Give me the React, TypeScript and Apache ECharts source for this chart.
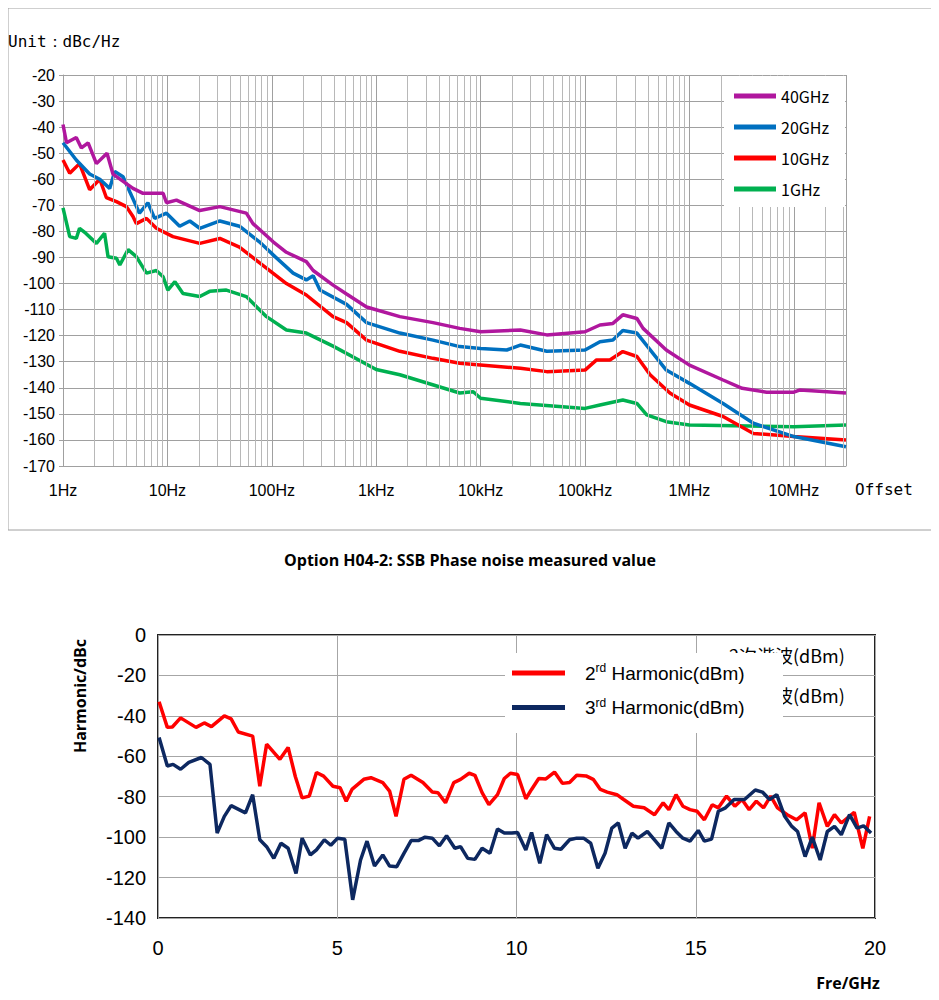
import { useEffect, useRef } from 'react';
import * as echarts from 'echarts';

// phase noise, [offset Hz, dBc/Hz]
const pn40G: [number, number][] = [
  [1, -39], [1.08, -46], [1.34, -44], [1.5, -48], [1.74, -46], [2.09, -54], [2.64, -50], [3.01, -58],
  [4.68, -63.5], [5.84, -65.4], [9.1, -65.4], [9.8, -69], [12.2, -68], [20.4, -72], [31.8, -70.5],
  [57, -73], [66, -77], [103, -84], [138, -88], [214, -91.6], [249, -95], [386, -100.6], [520, -104],
  [808, -109], [1685, -112.7], [3500, -115], [6300, -117.2], [10000, -118.5], [24000, -117.8],
  [43000, -119.7], [100000, -118.5], [139000, -115.9], [185000, -115.3], [230000, -112],
  [314000, -113.4], [360000, -117.2], [600000, -125.5], [1000000, -131.3], [2100000, -137],
  [3200000, -140.2], [5500000, -141.7], [10000000, -141.7], [11500000, -140.8], [31600000, -142],
];
const pn20G: [number, number][] = [
  [1, -46], [1.34, -52.6], [1.8, -58], [2.25, -60], [2.8, -63.5], [3.13, -57], [3.76, -59], [4.36, -64.8],
  [5.4, -73], [6.5, -69], [7.55, -75], [9.8, -73], [13.1, -78], [16.4, -76], [20.4, -78.8], [31.8, -76],
  [49, -78], [76, -84], [103, -89], [160, -96], [214, -98.6], [249, -97], [289, -102.5], [520, -108],
  [808, -115], [1685, -119], [3500, -121.7], [6300, -124.2], [10000, -124.9], [17800, -125.5],
  [24000, -123.6], [43000, -126], [100000, -125.5], [139000, -122.3], [185000, -121.7],
  [230000, -118], [314000, -119], [600000, -133.2], [1000000, -138.3], [2100000, -146],
  [4100000, -153.6], [10000000, -158.7], [31600000, -162.6],
];
const pn10G: [number, number][] = [
  [1, -52.6], [1.16, -57.7], [1.44, -54], [1.8, -64], [2.25, -60], [2.6, -67], [3.25, -68.6], [4.05, -70.5],
  [4.68, -74.3], [5.04, -77], [6.3, -75], [7.84, -78.8], [11.3, -82], [20.4, -84.6], [31.8, -82.7],
  [49, -86], [76, -92], [138, -100], [214, -104.4], [386, -112.7], [520, -115], [808, -121.7],
  [1685, -126], [3500, -128.7], [6300, -130.6], [24000, -132.5], [43000, -133.8], [100000, -133.2],
  [129000, -129.3], [173000, -129.3], [230000, -126.1], [314000, -128], [420000, -135],
  [650000, -142], [1000000, -146.6], [2100000, -151], [4100000, -157.5], [10000000, -158.7],
  [31600000, -160],
];
const pn1G: [number, number][] = [
  [1, -71], [1.16, -82], [1.34, -82.7], [1.44, -78.8], [1.65, -80.7], [2.09, -84.6], [2.5, -80.7],
  [2.7, -89.7], [3.25, -90.3], [3.5, -92.9], [4.2, -87], [5.04, -89.7], [6.3, -96], [7.84, -95],
  [9.1, -97.4], [10.1, -102.5], [11.8, -99.3], [14.1, -103.8], [20.4, -105], [25.4, -103],
  [36.7, -102.5], [57, -105], [89, -112.7], [138, -117.8], [214, -119], [386, -124], [1000, -133],
  [1685, -135], [6300, -142], [8500, -141.5], [10000, -144], [24000, -146], [100000, -147.9],
  [139000, -146.6], [230000, -144.7], [314000, -146], [390000, -150.4], [600000, -153],
  [1000000, -154.3], [10000000, -154.9], [31600000, -154.3],
];
const pnNames = ['40GHz', '20GHz', '10GHz', '1GHz'];
const pnColors = ['#B0179E', '#0070C0', '#FF0000', '#00B050'];
const decadeLabels: Record<number, string> = {
  1: '1Hz', 10: '10Hz', 100: '100Hz', 1000: '1kHz', 10000: '10kHz',
  100000: '100kHz', 1000000: '1MHz', 10000000: '10MHz',
};

// harmonics, [GHz, dBc]
const harm2: [number, number][] = [
  [0.03, -33], [0.26, -45.7], [0.4, -45.5], [0.63, -41], [1.06, -45.7], [1.29, -43.5], [1.49, -45.3],
  [1.85, -40], [2.04, -41.5], [2.24, -48], [2.64, -50], [2.84, -74.8], [3.03, -54], [3.4, -61.5],
  [3.63, -55.6], [3.83, -70], [4.02, -80.6], [4.22, -79.7], [4.42, -68], [4.62, -69.8], [4.88, -74.8],
  [5.08, -75.6], [5.25, -82.2], [5.41, -76.4], [5.74, -71.4], [5.94, -70.6], [6.27, -73], [6.46, -77.2],
  [6.64, -89.7], [6.86, -71.4], [7.06, -69.4], [7.39, -73], [7.65, -77.7], [7.81, -78], [8.02, -83],
  [8.25, -73], [8.44, -71.4], [8.68, -68.4], [8.84, -69.4], [9.04, -78], [9.23, -83.9], [9.47, -79],
  [9.66, -71], [9.83, -68.4], [10.03, -69], [10.26, -81], [10.42, -76.4], [10.62, -71], [10.82, -71.2],
  [11.06, -67.8], [11.28, -73.4], [11.48, -73], [11.68, -69.4], [11.94, -69.7], [12.14, -71.4],
  [12.34, -76.4], [12.53, -77.7], [12.8, -79], [12.99, -81.4], [13.26, -84.7], [13.56, -85.5],
  [13.85, -88.9], [14.09, -83], [14.25, -86.4], [14.45, -79], [14.64, -84.7], [14.84, -86.4],
  [15.04, -87.2], [15.24, -91.4], [15.46, -84], [15.63, -85.5], [15.86, -79.7], [16.09, -84.7],
  [16.29, -81.4], [16.49, -86.4], [16.69, -82.2], [16.89, -85.5], [17.09, -79.7], [17.28, -85.5],
  [17.55, -88.9], [17.81, -91.4], [18.05, -88], [18.25, -105.5], [18.44, -83], [18.67, -94.7],
  [18.87, -88.9], [19.06, -93], [19.42, -87.7], [19.66, -105.5], [19.85, -89.7],
];
const harm3: [number, number][] = [
  [0.03, -50.7], [0.26, -64.8], [0.42, -64], [0.63, -66.4], [0.86, -63], [1.21, -60.6], [1.45, -64],
  [1.65, -98], [1.85, -89.7], [2.04, -84.4], [2.44, -88], [2.64, -79], [2.84, -101.3], [3.03, -104.7],
  [3.23, -110.5], [3.43, -103], [3.63, -105.5], [3.85, -118], [4.02, -100.5], [4.25, -108.8],
  [4.42, -106.3], [4.64, -101.3], [4.82, -104], [5.01, -100.5], [5.21, -101], [5.43, -131],
  [5.65, -111.3], [5.83, -102], [6.04, -114.3], [6.27, -108.8], [6.46, -114.3], [6.66, -114.6],
  [6.86, -108], [7.06, -101.7], [7.26, -101.7], [7.45, -100], [7.65, -100.5], [7.85, -104.3],
  [8.05, -99.3], [8.28, -105.5], [8.44, -104.7], [8.64, -110.5], [8.84, -111], [9.04, -105.5],
  [9.26, -108], [9.47, -96], [9.66, -98], [9.87, -98], [10.03, -97.7], [10.26, -106.3], [10.42, -97.7],
  [10.65, -113], [10.84, -98.8], [11.06, -105.5], [11.24, -106], [11.48, -101.3], [11.68, -100.5],
  [11.87, -100.5], [12.07, -103], [12.27, -115.4], [12.47, -108], [12.66, -95.5], [12.84, -93],
  [13.03, -105.5], [13.22, -98], [13.39, -100.5], [13.65, -97.2], [13.85, -101.3], [14.05, -105.5],
  [14.25, -93], [14.45, -97.2], [14.64, -100.5], [14.84, -102], [15.07, -96.7], [15.24, -102],
  [15.44, -101], [15.63, -87.2], [15.83, -85.5], [16.07, -81.4], [16.36, -81.4], [16.66, -76.7],
  [16.86, -77.7], [17.06, -81.4], [17.26, -79], [17.48, -89.7], [17.68, -94.7], [17.84, -97.2],
  [18.05, -109.6], [18.25, -100], [18.47, -111.3], [18.67, -97.2], [18.87, -94.7], [19.06, -98.8],
  [19.29, -88.9], [19.5, -95.5], [19.68, -94.4], [19.89, -98],
];

// minor log grid lines 2..9 x 10^k
const minorGrid: number[] = [];
for (let k = 0; k < 8; k++) {
  for (let m = 2; m <= 9; m++) {
    if (m * 10 ** k < 31600000) minorGrid.push(m * 10 ** k);
  }
}

export default function App() {
  const chartRef = useRef<HTMLDivElement>(null);

  useEffect(() => {
    if (!chartRef.current) return;
    const chart = echarts.init(chartRef.current, null, { renderer: 'svg' });

    const axisText = { color: '#000', fontSize: 16, fontFamily: 'Liberation Sans' };
    const pnSeries: any[] = [pn40G, pn20G, pn10G, pn1G].map((d, i) => ({
      name: pnNames[i],
      type: 'line',
      xAxisIndex: 0,
      yAxisIndex: 0,
      data: d,
      symbol: 'none',
      lineStyle: { color: pnColors[i], width: 3.5 },
      itemStyle: { color: pnColors[i] },
      z: 5 - i,
    }));
    pnSeries.push({
      type: 'line',
      xAxisIndex: 0,
      yAxisIndex: 0,
      data: [],
      silent: true,
      markLine: {
        silent: true,
        symbol: 'none',
        label: { show: false },
        lineStyle: { color: '#b8b8b8', width: 1, type: 'solid' },
        data: minorGrid.map((v) => ({ xAxis: v })),
      },
      z: 1,
    });

    const option: echarts.EChartsOption = {
      animation: false,
      backgroundColor: '#fff',
      grid: [
        { left: 55, top: 67, width: 783, height: 391 },
        { left: 150, top: 627, width: 717, height: 283, show: true, borderColor: '#222', borderWidth: 2, backgroundColor: 'transparent' },
      ],
      xAxis: [
        {
          type: 'log',
          gridIndex: 0,
          min: 1,
          max: 31600000,
          logBase: 10,
          axisLine: { lineStyle: { color: '#a0a0a0' } },
          axisTick: { show: false },
          axisLabel: {
            ...axisText,
            margin: 16,
            showMaxLabel: false,
            formatter: (v: number) => decadeLabels[Math.round(v)] ?? '',
          },
          splitLine: { show: true, lineStyle: { color: '#a0a0a0', width: 1 } },
        },
        {
          type: 'value',
          gridIndex: 1,
          min: 0,
          max: 20,
          interval: 5,
          axisLine: { show: false },
          axisTick: { show: false },
          axisLabel: { color: '#000', fontSize: 20, margin: 20, fontFamily: 'Liberation Sans' },
          splitLine: { show: true, lineStyle: { color: '#a6a6a6', width: 1 } },
        },
      ],
      yAxis: [
        {
          type: 'value',
          gridIndex: 0,
          min: -170,
          max: -20,
          interval: 10,
          axisLine: { show: true, lineStyle: { color: '#a0a0a0' } },
          axisTick: { show: true, length: 4, lineStyle: { color: '#a0a0a0' } },
          axisLabel: { ...axisText, margin: 8 },
          splitLine: { show: true, lineStyle: { color: '#a0a0a0', width: 1 } },
        },
        {
          type: 'value',
          gridIndex: 1,
          min: -140,
          max: 0,
          interval: 20,
          axisLine: { show: false },
          axisTick: { show: false },
          axisLabel: { color: '#000', fontSize: 20, margin: 12, fontFamily: 'Liberation Sans' },
          splitLine: { show: true, lineStyle: { color: '#a6a6a6', width: 1 } },
        },
      ],
      legend: [
        {
          data: pnNames,
          orient: 'vertical',
          left: 716,
          top: 68,
          width: 122,
          backgroundColor: '#fff',
          padding: [12, 16, 10, 10],
          itemWidth: 42,
          itemHeight: 5,
          itemGap: 15,
          icon: 'rect',
          z: 10,
          textStyle: { color: '#000', fontSize: 16, fontFamily: 'Noto Sans CJK SC' },
        },
        {
          data: ['2nd', '3rd'],
          orient: 'vertical',
          left: 504,
          top: 654,
          padding: 0,
          itemWidth: 53,
          itemHeight: 5,
          itemGap: 14,
          icon: 'rect',
          z: 10,
          formatter: (n: string) =>
            n === '2nd' ? '{f|2}{s|rd}{a| Harmonic(dBm)}' : '{f|3}{s|rd}{a| Harmonic(dBm)}',
          textStyle: {
            color: '#000',
            fontFamily: 'Liberation Sans',
            rich: {
              f: { fontSize: 19, fontFamily: 'Liberation Sans', color: '#000', padding: [0, 0, 0, 15] },
              a: { fontSize: 19, fontFamily: 'Liberation Sans', color: '#000' },
              s: { fontSize: 12, fontFamily: 'Liberation Sans', color: '#000', verticalAlign: 'top', padding: [0, 0, 10, 0] },
            },
          },
        },
      ],
      graphic: [
        { type: 'rect', shape: { x: 0, y: 0, width: 927, height: 522 }, style: { fill: 'none', stroke: '#a0a0a0', lineWidth: 1 }, z: 0, silent: true },
        { type: 'text', x: 0, y: 25, style: { text: 'Unit：dBc/Hz', font: '16px "DejaVu Sans Mono"', fill: '#000' }, z: 20 },
        { type: 'text', x: 847, y: 473, style: { text: 'Offset', font: '16px "DejaVu Sans Mono"', fill: '#000' }, z: 20 },
        { type: 'text', x: 462, y: 552, style: { text: 'Option H04-2: SSB Phase noise measured value', font: 'bold 16px "Open Sans"', fill: '#000', align: 'center', verticalAlign: 'middle' }, z: 20 },
        { type: 'text', x: 721, y: 638, style: { text: '2次谐波(dBm)', font: '18px "Noto Sans CJK SC"', fill: '#000' }, z: 6 },
        { type: 'text', x: 721, y: 678, style: { text: '3次谐波(dBm)', font: '18px "Noto Sans CJK SC"', fill: '#000' }, z: 6 },
        { type: 'rect', shape: { x: 497, y: 645, width: 278, height: 80 }, style: { fill: '#fff' }, z: 7, silent: true },
        { type: 'text', x: 72, y: 688, rotation: Math.PI / 2, style: { text: 'Harmonic/dBc', font: 'bold 16px "Open Sans"', fill: '#000', align: 'center', verticalAlign: 'middle' }, z: 20 },
        { type: 'text', x: 840, y: 975, style: { text: 'Fre/GHz', font: 'bold 16px "Open Sans"', fill: '#000', align: 'center', verticalAlign: 'middle' }, z: 20 },
      ],
      series: [
        ...pnSeries,
        {
          name: '2nd',
          type: 'line',
          xAxisIndex: 1,
          yAxisIndex: 1,
          data: harm2,
          symbol: 'none',
          lineStyle: { color: '#FF0000', width: 3.5 },
          itemStyle: { color: '#FF0000' },
          z: 3,
        },
        {
          name: '3rd',
          type: 'line',
          xAxisIndex: 1,
          yAxisIndex: 1,
          data: harm3,
          symbol: 'none',
          lineStyle: { color: '#0D2860', width: 3.5 },
          itemStyle: { color: '#0D2860' },
          z: 4,
        },
      ],
    };

    chart.setOption(option);
    return () => {
      chart.dispose();
    };
  }, []);

  return <div ref={chartRef} style={{ width: 923, height: 990 }} />;
}
